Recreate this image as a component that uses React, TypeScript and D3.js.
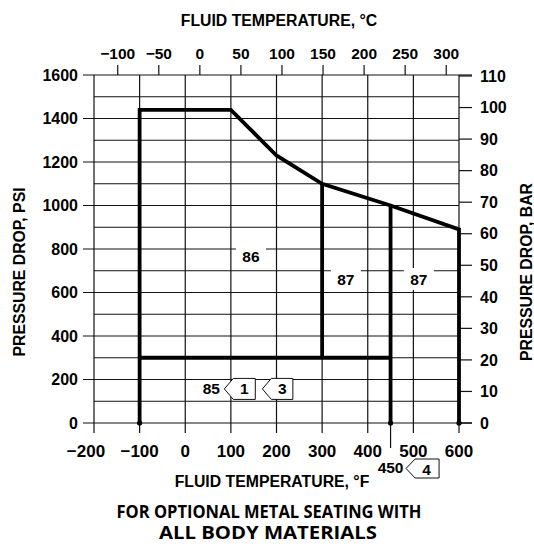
import * as d3 from 'd3'

// axis ticks
const fTicks = [-200, -100, 0, 100, 200, 300, 400, 500, 600]
const cTicks = [-100, -50, 0, 50, 100, 150, 200, 250, 300]
const psiTicks = [0, 200, 400, 600, 800, 1000, 1200, 1400, 1600]
const psiMinor = [100, 300, 500, 700, 900, 1100, 1300, 1500]
const barTicks = [0, 10, 20, 30, 40, 50, 60, 70, 80, 90, 100, 110]

// rating envelope (temperature °F, pressure drop psi)
const envelopeF = [-100, -100, 100, 200, 300, 450, 600, 600]
const envelopePsi = [0, 1440, 1440, 1230, 1100, 1000, 890, 0]
const floorF = [-100, 450]
const floorPsi = [300, 300]
const split300F = [300, 300]
const split300Psi = [1100, 300]
const split450F = [450, 450]
const split450Psi = [1000, 0]
const axisDotsF = [-100, 450, 600]

// region labels
const boxLabels = [
  { text: '86', f: 144, psi: 768 },
  { text: '87', f: 352, psi: 662 },
  { text: '87', f: 512, psi: 662 },
]

const PSI_PER_BAR = 14.5038
const font = '"Liberation Sans", Arial, sans-serif'

export default function App() {
  const x = d3.scaleLinear().domain([-200, 600]).range([94, 459])
  const y = d3.scaleLinear().domain([0, 1600]).range([423, 75])
  const yBar = d3.scaleLinear().domain([0, 1600 / PSI_PER_BAR]).range([423, 75])
  const xC = (c: number) => x(c * 9 / 5 + 32)

  const line = d3.line<[number, number]>().x(d => x(d[0])).y(d => y(d[1]))
  const zip = (a: number[], b: number[]) => a.map((v, i) => [v, b[i]] as [number, number])

  const [x0, x1] = x.range()
  const [y0, y1] = y.range()
  const thin = '#111'

  const flag = (left: number, top: number, w: number, h: number) => {
    const n = 9
    return [
      [left, top + h / 2], [left + n, top], [left + w, top],
      [left + w, top + h], [left + n, top + h],
    ].map(p => p.join(',')).join(' ')
  }
  const minus = (v: number) => (v < 0 ? '\u2212' + Math.abs(v) : String(v))

  return (
    <svg width={534} height={548} style={{ display: 'block', position: 'absolute', left: 0, top: 0 }}>
      <rect width={534} height={548} fill="#fff" />

      {/* grid */}
      <g stroke={thin} strokeWidth={1.2}>
        {fTicks.map(f => (
          <line key={'v' + f} x1={x(f)} x2={x(f)} y1={y1} y2={y0} />
        ))}
        {psiMinor.map(p => (
          <line key={'h' + p} x1={x0} x2={x1} y1={y(p)} y2={y(p)} />
        ))}
        {psiTicks.map(p => (
          <line key={'m' + p} x1={x0 - 11} x2={x1} y1={y(p)} y2={y(p)} />
        ))}
        <line x1={x1} x2={x1 + 13} y1={y(1600)} y2={y(1600)} />
        <line x1={x1} x2={x1 + 13} y1={y(0)} y2={y(0)} />
        {barTicks.map(b => (
          <line key={'b' + b} x1={x1} x2={x1 + 13} y1={yBar(b)} y2={yBar(b)} />
        ))}
        {fTicks.map(f => (
          <line key={'bt' + f} x1={x(f)} x2={x(f)} y1={y0} y2={y0 + 10} />
        ))}
        {cTicks.map(c => (
          <line key={'ct' + c} x1={xC(c)} x2={xC(c)} y1={y1} y2={y1 - 10} />
        ))}
        <line x1={x(450)} x2={x(450)} y1={y0} y2={y0 + 25} />
      </g>

      {/* region labels with white backing */}
      {boxLabels.map((d, i) => (
        <g key={'bl' + i} transform={`translate(${x(d.f)},${y(d.psi)})`}>
          <rect x={-15} y={-11} width={30} height={22} fill="#fff" />
          <text textAnchor="middle" dy="0.36em" fontFamily={font} fontWeight="bold" fontSize={15.5}>{d.text}</text>
        </g>
      ))}

      {/* envelope */}
      <g fill="none" stroke="#000" strokeWidth={3.8} strokeLinejoin="miter">
        <path d={line(zip(envelopeF, envelopePsi)) ?? ''} />
        <path d={line(zip(floorF, floorPsi)) ?? ''} />
        <path d={line(zip(split300F, split300Psi)) ?? ''} />
        <path d={line(zip(split450F, split450Psi)) ?? ''} />
      </g>
      {axisDotsF.map(f => (
        <circle key={'d' + f} cx={x(f)} cy={y(0)} r={2.6} fill="#000" />
      ))}

      {/* note flags */}
      <g fontFamily={font} fontWeight="bold" fontSize={15.5}>
        <text x={x(57)} y={y(161)} dy="0.36em" textAnchor="middle">85</text>
        <polygon points={flag(x(85.6), y(205), 31, 21)} fill="#fff" stroke={thin} strokeWidth={1} />
        <text x={x(85.6) + 20} y={y(161)} dy="0.36em" textAnchor="middle">1</text>
        <polygon points={flag(x(169), y(205), 30.5, 21)} fill="#fff" stroke={thin} strokeWidth={1} />
        <text x={x(169) + 20} y={y(161)} dy="0.36em" textAnchor="middle">3</text>

        <text x={x(450)} y={467} dy="0.36em" textAnchor="middle">450</text>
        <polygon points={flag(x(450) + 15.5, 459, 33, 19)} fill="#fff" stroke={thin} strokeWidth={1} />
        <text x={x(450) + 36} y={469} dy="0.36em" textAnchor="middle">4</text>
      </g>

      {/* tick labels */}
      <g fontFamily={font} fontWeight="bold">
        {psiTicks.map(p => (
          <text key={'pl' + p} x={78} y={y(p)} dy="0.36em" textAnchor="end" fontSize={16}>{p}</text>
        ))}
        {barTicks.map(b => (
          <text key={'brl' + b} x={480} y={yBar(b)} dy="0.36em" fontSize={16}>{b}</text>
        ))}
        {fTicks.map((f, i) => (
          <text key={'fl' + f} x={x(f) - (i === 0 ? 8 : 0)} y={451} dy="0.36em" textAnchor="middle" fontSize={17}>
            {minus(f)}
          </text>
        ))}
        {cTicks.map(c => (
          <text key={'cl' + c} x={xC(c)} y={53} dy="0.36em" textAnchor="middle" fontSize={15.5}>
            {minus(c)}
          </text>
        ))}
      </g>

      {/* axis titles */}
      <g fontFamily={font} fontWeight="bold" fontSize={15.8}>
        <text x={279} y={20} dy="0.36em" textAnchor="middle">FLUID TEMPERATURE, °C</text>
        <text x={272} y={481} dy="0.36em" textAnchor="middle">FLUID TEMPERATURE, °F</text>
        <text transform="translate(19,272) rotate(-90)" dy="0.36em" textAnchor="middle">PRESSURE DROP, PSI</text>
        <text transform="translate(526,272) rotate(-90)" dy="0.36em" textAnchor="middle">PRESSURE DROP, BAR</text>
      </g>

      <g fontFamily='"Open Sans", "Noto Sans", sans-serif' fontWeight="bold" fontSize={17} textAnchor="middle">
        <text x={269} y={512} dy="0.36em" textLength={305} lengthAdjust="spacingAndGlyphs">FOR OPTIONAL METAL SEATING WITH</text>
        <text x={268} y={533} dy="0.36em" textLength={218} lengthAdjust="spacingAndGlyphs">ALL BODY MATERIALS</text>
      </g>
    </svg>
  )
}
